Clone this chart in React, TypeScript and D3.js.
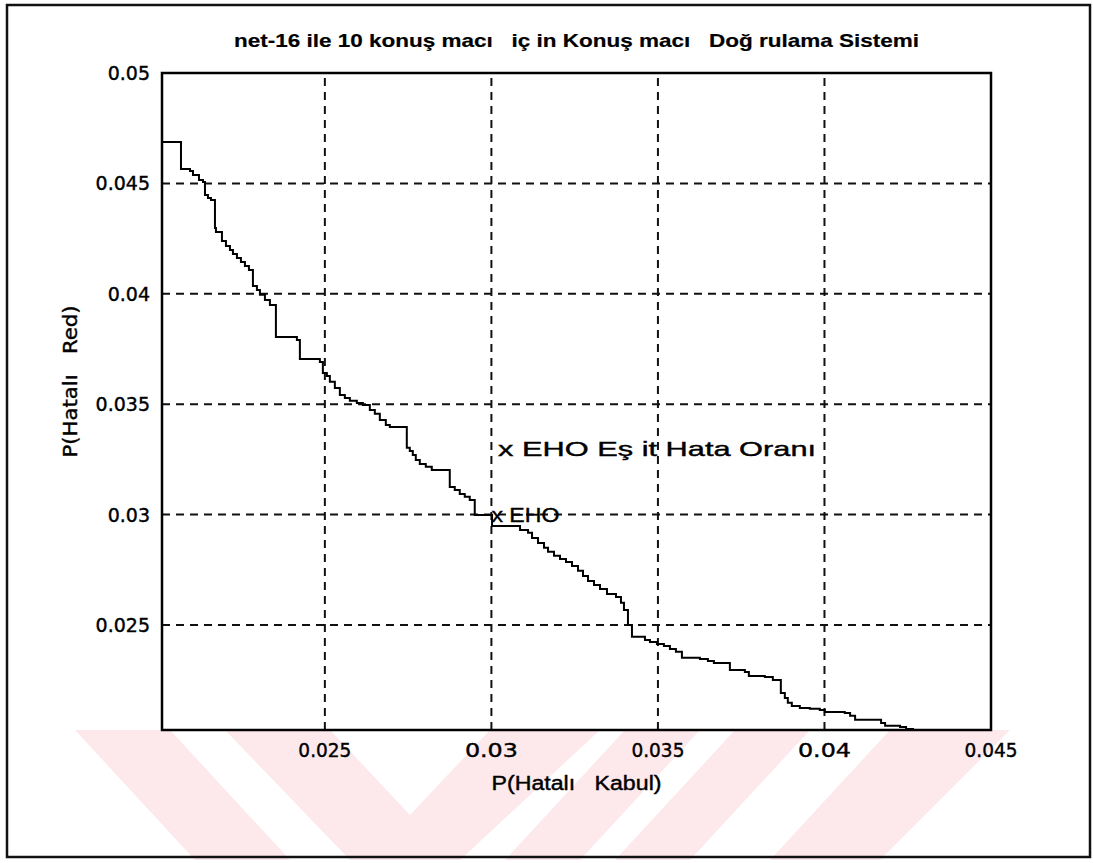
import { useEffect, useRef } from 'react';
import * as d3 from 'd3';

// P(Hatalı Kabul) values along the curve
const farValues = [
  0.02011, 0.02068, 0.02095, 0.02104, 0.02122, 0.02134, 0.0214, 0.02149, 0.02158, 0.0217,
  0.02173, 0.02191, 0.02203, 0.02215, 0.02224, 0.02236, 0.02248, 0.0226, 0.02272, 0.02284,
  0.02296, 0.02305, 0.0232, 0.02335, 0.02353, 0.02416, 0.02425, 0.02485, 0.02494, 0.02506,
  0.02515, 0.0253, 0.02545, 0.0256, 0.02575, 0.02596, 0.02614, 0.02635, 0.0265, 0.02665,
  0.02683, 0.02695, 0.02746, 0.02755, 0.02764, 0.02773, 0.02785, 0.02803, 0.02821, 0.02875,
  0.0289, 0.02905, 0.0292, 0.02935, 0.0295, 0.03002, 0.03086, 0.0311, 0.03122, 0.0314,
  0.03158, 0.0317, 0.03188, 0.03206, 0.03224, 0.03242, 0.0326, 0.03275, 0.0329, 0.03308,
  0.03326, 0.03347, 0.03374, 0.03389, 0.03398, 0.0341, 0.03422, 0.03461, 0.03476, 0.03497,
  0.03518, 0.03536, 0.03554, 0.03572, 0.03626, 0.0365, 0.03668, 0.03716, 0.03761, 0.03773,
  0.03821, 0.03845, 0.03869, 0.03881, 0.0389, 0.03902, 0.03926, 0.03956, 0.03986, 0.04001,
  0.04061, 0.04077, 0.04092, 0.0417, 0.04182, 0.04227, 0.04245, 0.04266,
];

// P(Hatalı Red) values along the curve
const frrValues = [
  0.04688, 0.04565, 0.04556, 0.04538, 0.04515, 0.04506, 0.04447, 0.04434, 0.04425, 0.04298,
  0.0428, 0.04239, 0.04216, 0.04198, 0.0418, 0.04162, 0.04144, 0.04126, 0.04108, 0.04035,
  0.04017, 0.03995, 0.03972, 0.03949, 0.03804, 0.03791, 0.03705, 0.03691, 0.03641, 0.03628,
  0.03601, 0.03573, 0.03542, 0.03528, 0.03515, 0.03505, 0.03496, 0.03474, 0.03456, 0.03428,
  0.03406, 0.03397, 0.03302, 0.03288, 0.0327, 0.03247, 0.03229, 0.03216, 0.03202, 0.03125,
  0.03111, 0.03093, 0.0308, 0.03066, 0.02998, 0.02948, 0.0293, 0.02917, 0.02894, 0.02871,
  0.02849, 0.02831, 0.02813, 0.02799, 0.02785, 0.02767, 0.02745, 0.02722, 0.02699, 0.02681,
  0.02663, 0.0264, 0.02627, 0.026, 0.02568, 0.025, 0.02446, 0.02432, 0.02423, 0.02414,
  0.02405, 0.02391, 0.02378, 0.02351, 0.02346, 0.02337, 0.02328, 0.02296, 0.02287, 0.02269,
  0.02264, 0.02251, 0.02192, 0.02169, 0.02147, 0.02133, 0.02124, 0.0212, 0.02115, 0.02106,
  0.02101, 0.02088, 0.0207, 0.02056, 0.02043, 0.02038, 0.02029, 0.02024,
];

const xTicks = [0.025, 0.03, 0.035, 0.04, 0.045];
const xTickLabels = ['0.025', '0.03', '0.035', '0.04', '0.045'];
const yTicks = [0.025, 0.03, 0.035, 0.04, 0.045, 0.05];
const yTickLabels = ['0.025', '0.03', '0.035', '0.04', '0.045', '0.05'];

const titleText = 'net-16 ile 10 konuş macı   iç in Konuş macı   Doğ rulama Sistemi';
const xLabel = 'P(Hatalı   Kabul)';
const yLabel = 'P(Hatalı   Red)';
const ehoPoint = { far: 0.03, frr: 0.03, label: 'x EHO' };
const legendNote = { far: 0.0302, frr: 0.033, label: 'x EHO Eş it Hata Oranı' };

const W = 1094;
const H = 863;
const plot = { left: 162, top: 73, right: 991, bottom: 730 };

const App = () => {
  const svgRef = useRef<SVGSVGElement>(null);

  useEffect(() => {
    if (!svgRef.current) return;
    const svg = d3.select(svgRef.current);
    svg.selectAll('*').remove();

    const font = '"DejaVu Sans", "Liberation Sans", Arial, sans-serif';
    const arial = '"Liberation Sans", Arial, sans-serif';

    const x = d3.scaleLinear().domain([0.02011, 0.045]).range([plot.left, plot.right]);
    const y = d3.scaleLinear().domain([0.02024, 0.05]).range([plot.bottom, plot.top]);

    svg.append('rect').attr('width', W).attr('height', H).attr('fill', 'white');

    // faint watermark stripes under the axes
    const wm = svg.append('g').attr('fill', '#fde8ec');
    const stripes = [
      [[75, 730], [170, 730], [290, 860], [195, 860]],
      [[225, 730], [330, 730], [410, 815], [490, 730], [600, 730], [460, 860], [350, 860]],
      [[625, 730], [700, 730], [580, 860], [505, 860]],
      [[735, 730], [810, 730], [690, 860], [615, 860]],
      [[890, 730], [1010, 730], [880, 860], [770, 860]],
    ];
    stripes.forEach((pts) => {
      wm.append('polygon').attr('points', pts.map((p) => p.join(',')).join(' '));
    });

    // outer frame
    svg
      .append('rect')
      .attr('x', 7)
      .attr('y', 5)
      .attr('width', 1083)
      .attr('height', 852)
      .attr('fill', 'none')
      .attr('stroke', '#111')
      .attr('stroke-width', 2.5);

    // grid
    const grid = svg.append('g').attr('stroke', '#111').attr('stroke-width', 2).attr('stroke-dasharray', '8,6');
    xTicks.forEach((t) => {
      if (t >= 0.045) return;
      grid.append('line').attr('x1', x(t)).attr('x2', x(t)).attr('y1', plot.bottom).attr('y2', plot.top);
    });
    yTicks.forEach((t) => {
      if (t >= 0.05) return;
      grid.append('line').attr('x1', plot.left).attr('x2', plot.right).attr('y1', y(t)).attr('y2', y(t));
    });

    // curve
    const pts = farValues.map((v, i) => [v, frrValues[i]] as [number, number]);
    const line = d3
      .line<[number, number]>()
      .x((d) => x(d[0]))
      .y((d) => y(d[1]))
      .curve(d3.curveStepAfter);
    svg
      .append('path')
      .attr('d', line(pts))
      .attr('fill', 'none')
      .attr('stroke', '#000')
      .attr('stroke-width', 2);

    // axes box
    svg
      .append('rect')
      .attr('x', plot.left)
      .attr('y', plot.top)
      .attr('width', plot.right - plot.left)
      .attr('height', plot.bottom - plot.top)
      .attr('fill', 'none')
      .attr('stroke', '#000')
      .attr('stroke-width', 2.5);

    // tick labels
    const txt = svg
      .append('g')
      .attr('font-family', font)
      .attr('fill', '#000')
      .attr('stroke', '#000')
      .attr('stroke-width', 0.4);
    xTicks.forEach((t, i) => {
      txt
        .append('text')
        .attr('x', x(t))
        .attr('y', plot.bottom + 27)
        .attr('text-anchor', 'middle')
        .attr('font-size', 19)
        .attr('textLength', 53)
        .attr('lengthAdjust', 'spacingAndGlyphs')
        .text(xTickLabels[i]);
    });
    yTicks.forEach((t, i) => {
      txt
        .append('text')
        .attr('x', plot.left - 12)
        .attr('y', y(t) + 7)
        .attr('text-anchor', 'end')
        .attr('font-size', 19)
        .text(yTickLabels[i]);
    });

    // title & labels (keep the wide gaps between words)
    txt
      .append('text')
      .attr('xml:space', 'preserve')
      .attr('x', (plot.left + plot.right) / 2)
      .attr('y', 47)
      .attr('text-anchor', 'middle')
      .attr('font-family', '"Liberation Sans Narrow", "Liberation Sans", Arial, sans-serif')
      .attr('font-size', 19)
      .attr('font-weight', 'bold')
      .attr('stroke-width', 0.2)
      .attr('textLength', 685)
      .attr('lengthAdjust', 'spacingAndGlyphs')
      .text(titleText);
    txt
      .append('text')
      .attr('xml:space', 'preserve')
      .attr('x', (plot.left + plot.right) / 2)
      .attr('y', 790)
      .attr('text-anchor', 'middle')
      .attr('font-family', arial)
      .attr('font-size', 20)
      .attr('textLength', 170)
      .attr('lengthAdjust', 'spacingAndGlyphs')
      .text(xLabel);
    txt
      .append('text')
      .attr('xml:space', 'preserve')
      .attr('transform', `translate(77, ${(plot.top + plot.bottom) / 2 - 20}) rotate(-90)`)
      .attr('text-anchor', 'middle')
      .attr('font-size', 19)
      .attr('textLength', 152)
      .attr('lengthAdjust', 'spacingAndGlyphs')
      .text(yLabel);

    // annotations
    txt
      .append('text')
      .attr('x', x(ehoPoint.far))
      .attr('y', y(ehoPoint.frr) + 7)
      .attr('font-family', arial)
      .attr('font-size', 21)
      .attr('textLength', 68)
      .attr('lengthAdjust', 'spacingAndGlyphs')
      .text(ehoPoint.label);
    txt
      .append('text')
      .attr('x', x(legendNote.far))
      .attr('y', y(legendNote.frr) + 8)
      .attr('font-family', arial)
      .attr('font-size', 21)
      .attr('textLength', 318)
      .attr('lengthAdjust', 'spacingAndGlyphs')
      .text(legendNote.label);
  }, []);

  return (
    <div style={{ position: 'absolute', left: 0, top: 0 }}>
      <svg ref={svgRef} width={W} height={H} style={{ display: 'block' }} />
    </div>
  );
};

export default App;
